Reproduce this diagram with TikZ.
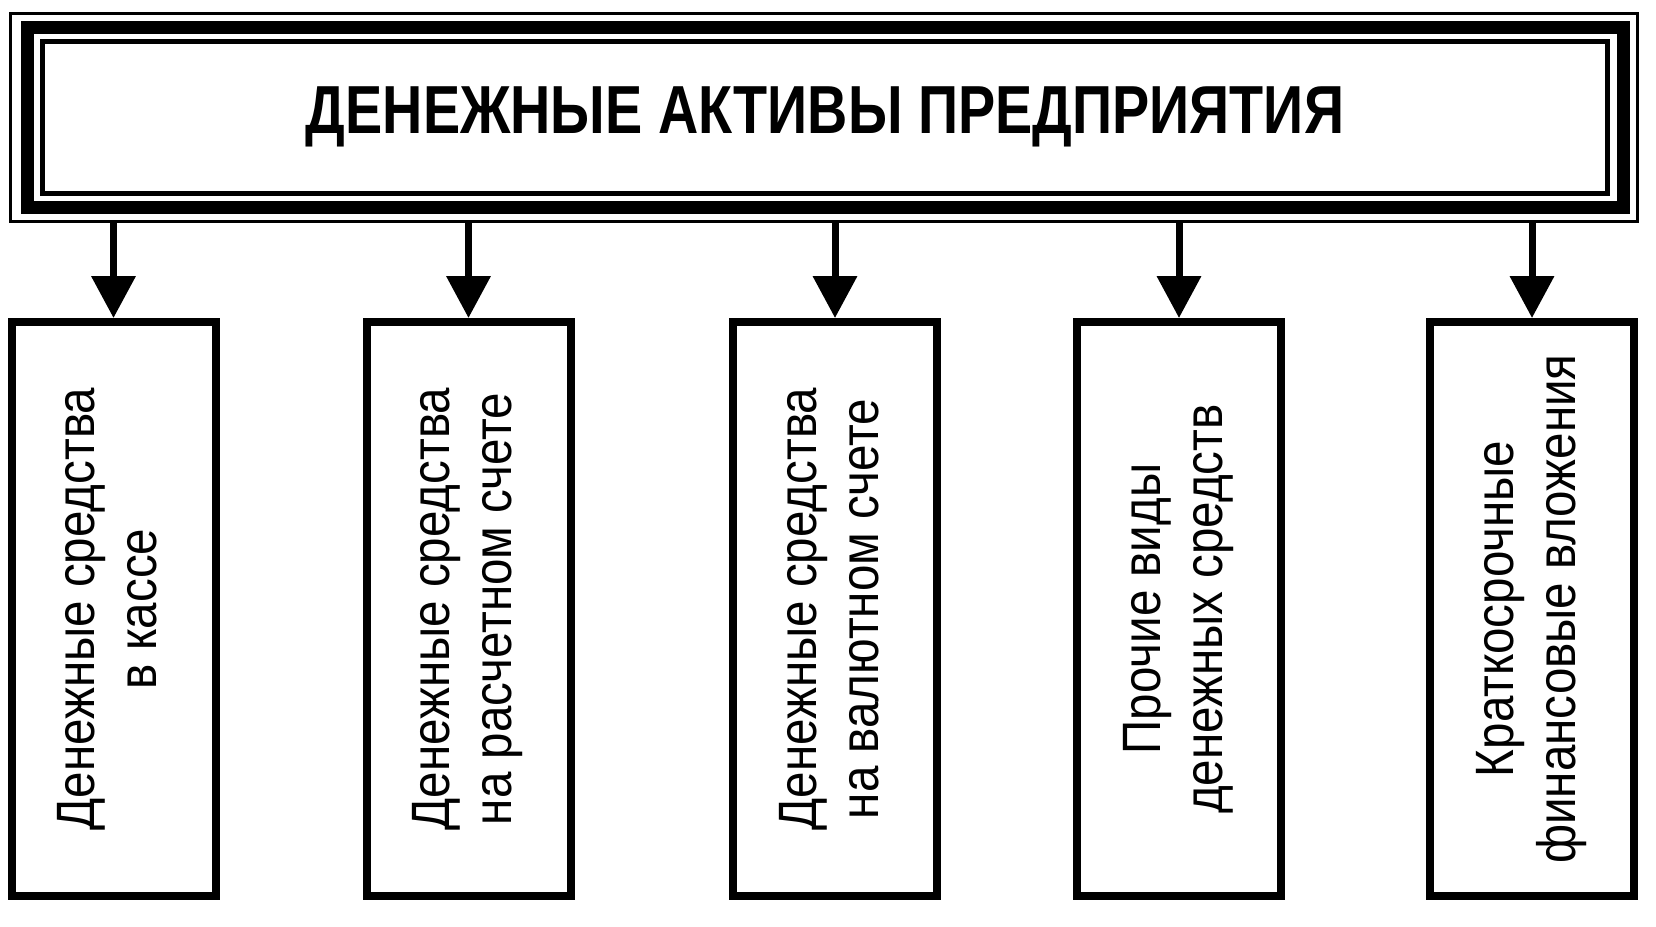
\documentclass[tikz,border=0pt]{standalone}
\usepackage{fontspec}
\usepackage{tikz}
\usetikzlibrary{arrows.meta}
\setmainfont{Liberation Sans}
\newfontfamily\titlefont{Liberation Sans Bold}[FakeStretch=0.82]
\newfontfamily\boxfont{Liberation Sans}[FakeStretch=0.88]
\tikzstyle{frame} = [draw, inner sep=0pt]
\tikzstyle{item} = [draw, line width=4pt, minimum width=102pt, minimum height=287pt, inner sep=0pt]
\tikzstyle{link} = [line width=3.5pt, -{Triangle[length=21pt,width=21.5pt]}]
\newcommand{\vlines}[2]{\rotatebox{90}{\begin{tabular}{@{}c@{}}#1\\#2\end{tabular}}}

\begin{document}
\begin{tikzpicture}[x=0.5pt,y=-0.5pt]
			\useasboundingbox (0,0) rectangle (1656,927);
			% triple frame of the heading
			\node[frame, line width=1.5pt, minimum width=813.75pt, minimum height=104pt] (outer) at (823.75,117) {};
			\node[frame, line width=6.5pt, minimum width=798pt, minimum height=89.75pt] (head) at (825,117.25) {};
			\node[frame, line width=2.5pt, minimum width=782.5pt, minimum height=75.75pt] (inner) at (825,117.25)
				{\titlefont\fontsize{34}{40}\selectfont ДЕНЕЖНЫЕ АКТИВЫ ПРЕДПРИЯТИЯ};
			% five kinds of assets
			\begin{scope}[every node/.append style={font=\boxfont\fontsize{27}{31}\selectfont}]
			\node[item] (kassa) at (113.5,609) {\vlines{Денежные средства}{в кассе}};
			\node[item] (rasch) at (468.5,609) {\vlines{Денежные средства}{на расчетном счете}};
			\node[item] (valut) at (835,609) {\vlines{Денежные средства}{на валютном счете}};
			\node[item] (proch) at (1179,609) {\vlines{Прочие виды}{денежных средств}};
			\node[item] (fin) at (1532,609) {\vlines{Краткосрочные}{финансовые вложения}};
			\end{scope}
			\foreach \b in {kassa,rasch,valut,proch,fin}
				\draw[link] (outer.south -| \b.north) -- (\b.north);
		\end{tikzpicture}
\end{document}
